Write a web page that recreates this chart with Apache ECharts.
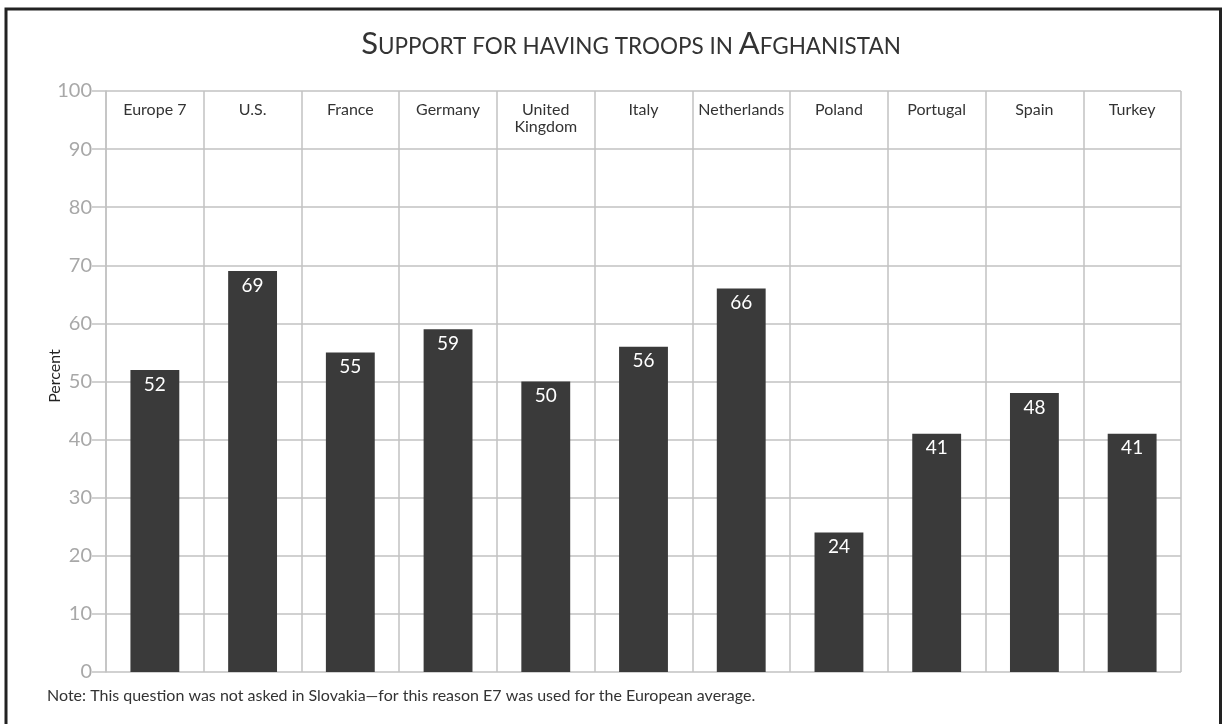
<!DOCTYPE html>
<html>
<head>
<meta charset="utf-8">
<style>
  html, body { margin: 0; padding: 0; background: #ffffff; }
  #chart { width: 1223px; height: 724px; }
</style>
<script src="https://cdn.jsdelivr.net/npm/echarts@6/dist/echarts.min.js"></script>
</head>
<body>
<div id="chart"></div>
<script>
// Share of respondents supporting troops in Afghanistan, by country
const categories = ['Europe 7', 'U.S.', 'France', 'Germany', 'United\nKingdom', 'Italy',
  'Netherlands', 'Poland', 'Portugal', 'Spain', 'Turkey'];
const support = [52, 69, 55, 59, 50, 56, 66, 24, 41, 48, 41];
const yTicks = { min: 0, max: 100, interval: 10 };

const FONT = 'Lato, "Open Sans", sans-serif';
const GRID_COLOR = '#c2c2c2';

const chart = echarts.init(document.getElementById('chart'), null, { renderer: 'canvas' });

chart.setOption({
  animation: false,
  backgroundColor: '#ffffff',
  textStyle: { fontFamily: FONT },
  grid: { left: 106, right: 42, top: 91, bottom: 52, containLabel: false },
  xAxis: {
    type: 'category',
    data: categories,
    position: 'top',
    boundaryGap: true,
    axisLine: { show: false },
    axisTick: { show: false },
    axisLabel: {
      inside: true,
      interval: 0,
      margin: 10,
      fontSize: 16,
      lineHeight: 17,
      color: '#333333',
      fontFamily: FONT,
      verticalAlign: 'top'
    },
    splitLine: { show: true, lineStyle: { color: GRID_COLOR, width: 1.5 } }
  },
  yAxis: {
    type: 'value',
    min: yTicks.min,
    max: yTicks.max,
    interval: yTicks.interval,
    axisLine: { show: true, lineStyle: { color: GRID_COLOR, width: 1.5 } },
    axisTick: { show: true, length: 14, lineStyle: { color: GRID_COLOR, width: 1.5 } },
    axisLabel: { margin: 14, fontSize: 20, color: '#a8a8a8', fontFamily: FONT },
    splitLine: { show: true, lineStyle: { color: GRID_COLOR, width: 1.5 } }
  },
  series: [{
    type: 'bar',
    data: support,
    barWidth: '50%',
    itemStyle: { color: '#3a3a3a' },
    label: {
      show: true,
      position: 'insideTop',
      distance: 5,
      color: '#ffffff',
      fontSize: 19,
      fontFamily: FONT
    }
  }],
  graphic: [
    {
      type: 'rect',
      silent: true,
      shape: { x: 6, y: 9, width: 1214.5, height: 740 },
      style: { fill: 'none', stroke: '#222222', lineWidth: 3 }
    },
    {
      // vertical axis title
      type: 'text',
      x: 55,
      y: 376,
      rotation: Math.PI / 2,
      style: {
        text: 'Percent',
        fontSize: 16,
        fontFamily: FONT,
        fill: '#222222',
        textAlign: 'center',
        textVerticalAlign: 'middle'
      }
    },
    {
      type: 'text',
      x: 631,
      y: 59,
      style: {
        text: '{b|S}{s|UPPORT FOR HAVING TROOPS IN }{b|A}{s|FGHANISTAN}',
        textAlign: 'center',
        textVerticalAlign: 'bottom',
        fill: '#333333',
        rich: {
          b: { fontSize: 31, fontFamily: FONT, fill: '#333333', verticalAlign: 'bottom' },
          s: { fontSize: 22.5, fontFamily: FONT, fill: '#333333', verticalAlign: 'bottom', padding: [0, 0, 1, 0] }
        }
      }
    },
    {
      type: 'text',
      x: 47,
      y: 696,
      style: {
        text: 'Note: This question was not asked in Slovakia\u2014for this reason E7 was used for the European average.',
        fontSize: 16,
        fontFamily: FONT,
        fill: '#333333',
        textVerticalAlign: 'middle'
      }
    }
  ]
});
</script>
</body>
</html>
